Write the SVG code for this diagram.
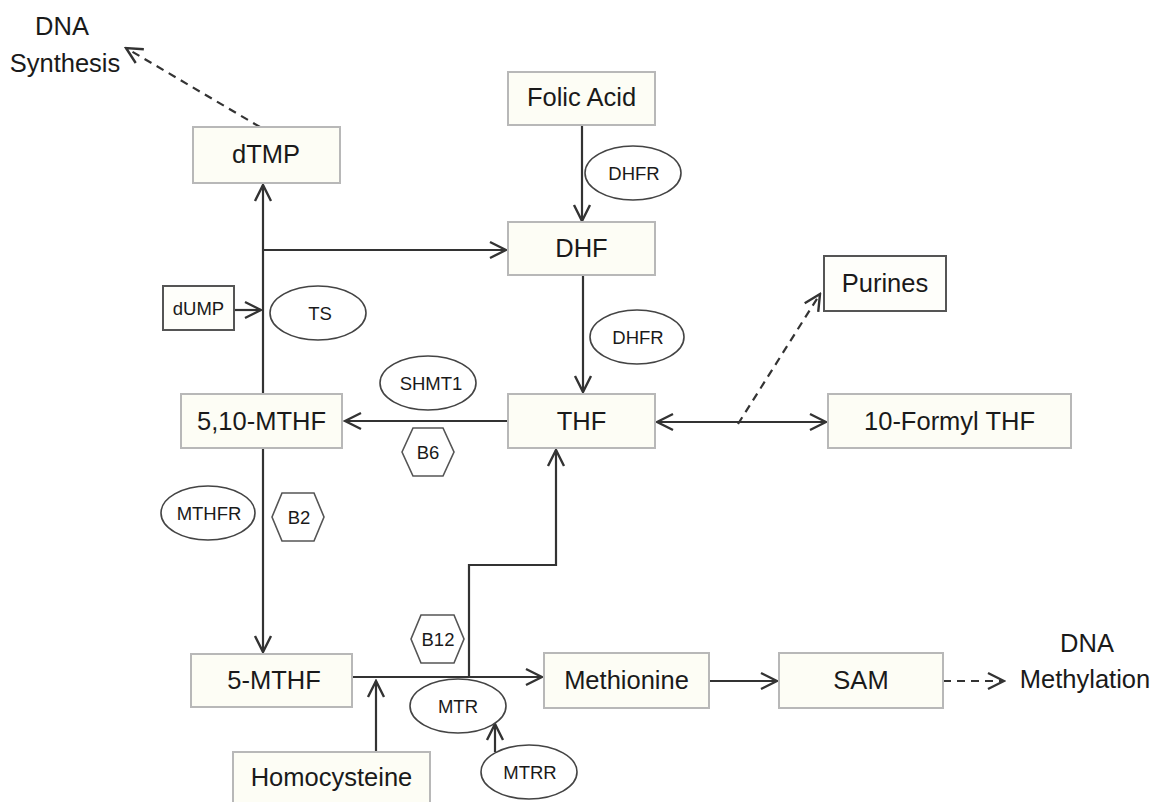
<svg xmlns="http://www.w3.org/2000/svg" width="1154" height="802" viewBox="0 0 1154 802">
<style>
.box{fill:#fdfdf5;stroke:#b8b8b8;stroke-width:2}
.box2{fill:#fefefa;stroke:#555;stroke-width:2}
.enz{fill:#fff;stroke:#444;stroke-width:1.6}
.hex{fill:#fff;stroke:#555;stroke-width:1.6}
.lbl{font-family:"Liberation Sans",Arial,sans-serif;font-size:25.5px;fill:#1a1a1a;text-anchor:middle}
.sm{font-family:"Liberation Sans",Arial,sans-serif;font-size:18.5px;fill:#1a1a1a;text-anchor:middle}
.ln{fill:none;stroke:#333;stroke-width:2.2}
.ds{fill:none;stroke:#333;stroke-width:2.2;stroke-dasharray:8 6}
</style>
<defs>
<marker id="ah" viewBox="0 0 20 20" refX="18" refY="10" markerWidth="20" markerHeight="20" markerUnits="userSpaceOnUse" orient="auto-start-reverse">
<path d="M2,2 L18,10 L2,18" fill="none" stroke="#333" stroke-width="2.4" stroke-dasharray="none"/>
</marker>
</defs>
<rect width="1154" height="802" fill="#fff"/>
<g id="connectors">
<path class="ds" d="M260,127 L126,48" marker-end="url(#ah)"/>
<path class="ln" d="M582,125 L582,221" marker-end="url(#ah)"/>
<path class="ln" d="M583,275 L583,392" marker-end="url(#ah)"/>
<path class="ln" d="M263,394 L263,185" marker-end="url(#ah)"/>
<path class="ln" d="M263,250 L506,250" marker-end="url(#ah)"/>
<path class="ln" d="M234,310 L261,310" marker-end="url(#ah)"/>
<path class="ln" d="M512,421 L345,421" marker-end="url(#ah)"/>
<path class="ln" d="M263,448 L263,652" marker-end="url(#ah)"/>
<path class="ln" d="M657,422 L826,422" marker-start="url(#ah)" marker-end="url(#ah)"/>
<path class="ds" d="M738,424 L820,294" marker-end="url(#ah)"/>
<path class="ln" d="M352,677 L542,677" marker-end="url(#ah)"/>
<path class="ln" d="M469,677 L469,565 L556,565 L556,450" marker-end="url(#ah)"/>
<path class="ln" d="M376,752 L376,681" marker-end="url(#ah)"/>
<path class="ln" d="M495,752 L495,724" marker-end="url(#ah)"/>
<path class="ln" d="M709,681 L777,681" marker-end="url(#ah)"/>
<path class="ds" d="M943,681 L1004,681" marker-end="url(#ah)"/>
</g>
<g id="dna-synthesis"><text class="lbl" x="62" y="35">DNA</text><text class="lbl" x="65" y="72">Synthesis</text></g>
<g id="dTMP"><rect class="box" x="193" y="127" width="147" height="56"/><text class="lbl" x="266" y="163">dTMP</text></g>
<g id="folic-acid"><rect class="box" x="508" y="72" width="147" height="53"/><text class="lbl" x="581.5" y="106">Folic Acid</text></g>
<g id="dhfr1"><ellipse class="enz" cx="633" cy="173" rx="48" ry="27"/><text class="sm" x="634" y="180">DHFR</text></g>
<g id="DHF"><rect class="box" x="508" y="222" width="147" height="53"/><text class="lbl" x="581.5" y="257">DHF</text></g>
<g id="dUMP"><rect class="box2" x="163" y="286" width="71" height="44"/><text class="sm" x="198.5" y="315">dUMP</text></g>
<g id="TS"><ellipse class="enz" cx="318" cy="313" rx="48" ry="27"/><text class="sm" x="320" y="320">TS</text></g>
<g id="dhfr2"><ellipse class="enz" cx="637" cy="337" rx="47" ry="27"/><text class="sm" x="638" y="344">DHFR</text></g>
<g id="purines"><rect class="box2" x="824" y="256" width="122" height="55"/><text class="lbl" x="885" y="292">Purines</text></g>
<g id="SHMT1"><ellipse class="enz" cx="428" cy="383" rx="48" ry="27"/><text class="sm" x="431" y="390">SHMT1</text></g>
<g id="mthf510"><rect class="box" x="181" y="394" width="161" height="54"/><text class="lbl" x="261.5" y="430">5,10-MTHF</text></g>
<g id="THF"><rect class="box" x="508" y="394" width="147" height="54"/><text class="lbl" x="581.5" y="430">THF</text></g>
<g id="formyl"><rect class="box" x="828" y="394" width="243" height="54"/><text class="lbl" x="949.5" y="430">10-Formyl THF</text></g>
<g id="B6"><polygon class="hex" points="402,452 413,428 443,428 454,452 443,476 413,476"/><text class="sm" x="428" y="459">B6</text></g>
<g id="MTHFR"><ellipse class="enz" cx="208" cy="513" rx="47" ry="27"/><text class="sm" x="209" y="520">MTHFR</text></g>
<g id="B2"><polygon class="hex" points="272,517 282,493 314,493 324,517 314,541 282,541"/><text class="sm" x="299" y="524">B2</text></g>
<g id="B12"><polygon class="hex" points="411,639 421,615 454,615 464,639 454,663 421,663"/><text class="sm" x="438" y="646">B12</text></g>
<g id="mthf5"><rect class="box" x="191" y="654" width="161" height="53"/><text class="lbl" x="274" y="689">5-MTHF</text></g>
<g id="methionine"><rect class="box" x="544" y="653" width="165" height="55"/><text class="lbl" x="626.5" y="689">Methionine</text></g>
<g id="SAM"><rect class="box" x="779" y="653" width="164" height="55"/><text class="lbl" x="861" y="689">SAM</text></g>
<g id="dna-methylation"><text class="lbl" x="1087" y="652">DNA</text><text class="lbl" x="1085" y="688">Methylation</text></g>
<g id="MTR"><ellipse class="enz" cx="458" cy="706" rx="48" ry="27"/><text class="sm" x="458" y="713">MTR</text></g>
<g id="homocysteine"><rect class="box" x="233" y="752" width="197" height="60"/><text class="lbl" x="331.5" y="786">Homocysteine</text></g>
<g id="MTRR"><ellipse class="enz" cx="529" cy="772" rx="48" ry="27"/><text class="sm" x="530" y="779">MTRR</text></g>
</svg>
